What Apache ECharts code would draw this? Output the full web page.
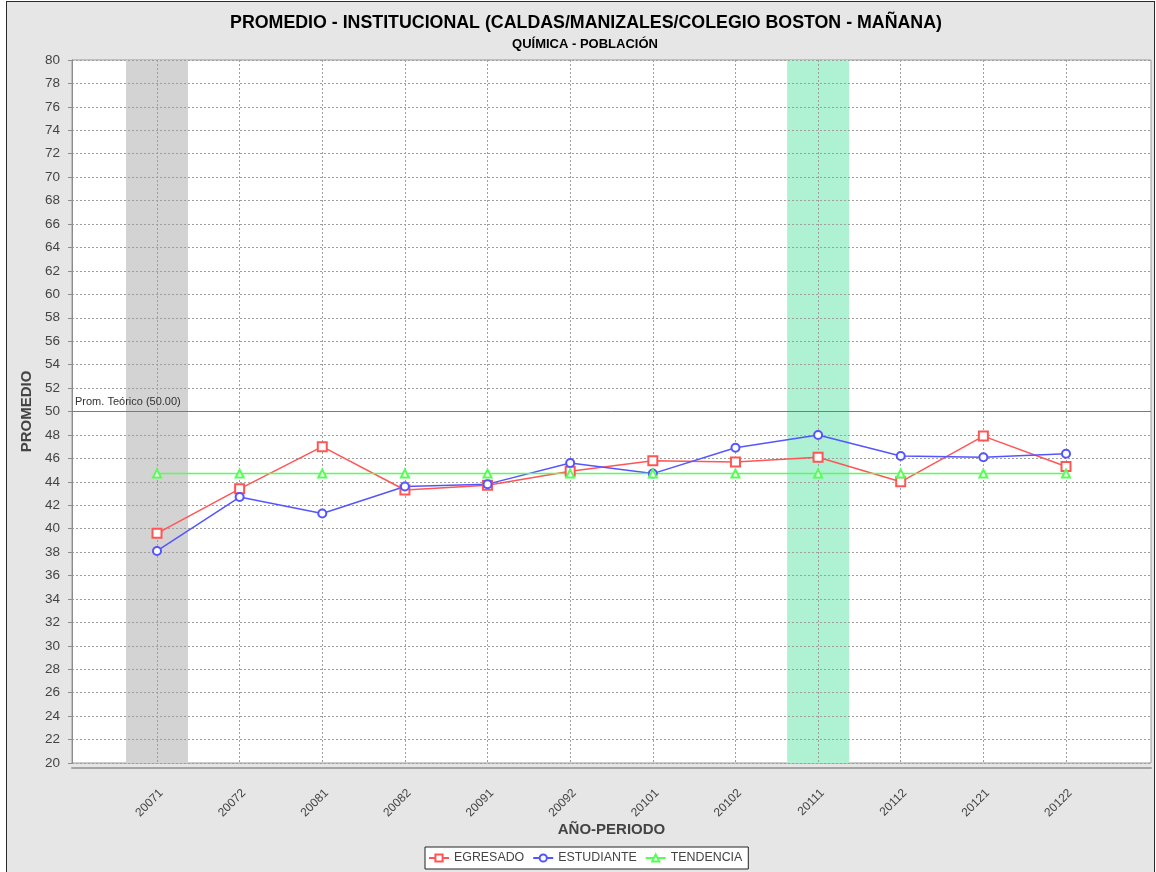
<!DOCTYPE html>
<html>
<head>
<meta charset="utf-8">
<title>Promedio institucional - Química</title>
<script src="https://cdn.jsdelivr.net/npm/echarts@6/dist/echarts.min.js"></script>
<style>
  html, body { margin: 0; padding: 0; background: #ffffff; }
  #frame {
    position: absolute; left: 6px; top: 1px; width: 1147px; height: 900px;
    border: 1px solid #2a2a2a; background: #e6e6e6;
  }
  #chart { position: absolute; left: 0; top: 0; width: 1156px; height: 872px; }
</style>
</head>
<body>
<div id="frame"></div>
<div id="chart"></div>
<script>
// Periods (year + semester)
const categories = ['20071', '20072', '20081', '20082', '20091', '20092',
                    '20101', '20102', '20111', '20112', '20121', '20122'];

// Average scores per period
const egresado   = [39.6, 43.4, 47.0, 43.3, 43.7, 44.9, 45.8, 45.7, 46.1, 44.0, 47.9, 45.3];
const estudiante = [38.1, 42.7, 41.3, 43.6, 43.8, 45.6, 44.7, 46.9, 48.0, 46.2, 46.1, 46.4];
const tendencia  = [44.7, 44.7, 44.7, 44.7, 44.7, 44.7, 44.7, 44.7, 44.7, 44.7, 44.7, 44.7];

// Theoretical average reference line
const promTeorico = 50;

// Highlighted periods (shaded columns)
const bandPeriods = ['20071', '20111'];
const bandColors  = ['#d3d3d3', '#aff2d3'];

// Value axis range
const yMin = 20, yMax = 80, yStep = 2;

const FONT = "'Liberation Sans', Arial, sans-serif";
const TITLE = 'PROMEDIO - INSTITUCIONAL (CALDAS/MANIZALES/COLEGIO BOSTON - MAÑANA)';
const SUBTITLE = 'QUÍMICA - POBLACIÓN';

const chart = echarts.init(document.getElementById('chart'), null, { renderer: 'canvas' });

const gridLine = { color: '#9e9e9e', type: [2, 2], width: 1 };

const option = {
  backgroundColor: 'transparent',
  animation: false,
  textStyle: { fontFamily: FONT },
  title: [
    {
      text: TITLE, left: 581, top: 9, textAlign: 'center',
      textStyle: { fontFamily: FONT, fontSize: 17.8, fontWeight: 'bold', color: '#000' }
    },
    {
      text: SUBTITLE, left: 580, top: 33, textAlign: 'center',
      textStyle: { fontFamily: FONT, fontSize: 13, fontWeight: 'bold', color: '#000' }
    }
  ],
  legend: {
    data: ['EGRESADO', 'ESTUDIANTE', 'TENDENCIA'],
    left: 425, top: 847,
    backgroundColor: '#ffffff',
    borderColor: '#222', borderWidth: 1,
    padding: [5, 6, 5, 3],
    itemGap: 8, itemWidth: 20, itemHeight: 9,
    textStyle: { fontFamily: FONT, fontSize: 12.4, color: '#444' }
  },
  grid: [
    { left: 72, top: 60, width: 1079, height: 703, show: true,
      backgroundColor: '#ffffff', borderColor: '#9a9a9a', borderWidth: 1 },
    { left: 157, top: 60, width: 909, height: 703 }
  ],
  xAxis: [
    {
      gridIndex: 0, type: 'value', min: 0, max: 1, offset: 5, z: 2,
      axisLine: { show: true, lineStyle: { color: '#a5a5a5', width: 2 } },
      axisTick: { show: false }, axisLabel: { show: false }, splitLine: { show: false },
      name: 'AÑO-PERIODO', nameLocation: 'middle', nameGap: 54,
      nameTextStyle: { fontFamily: FONT, fontSize: 15, fontWeight: 'bold', color: '#444' }
    },
    {
      gridIndex: 1, type: 'category', data: categories, boundaryGap: false, z: 2,
      axisLine: { show: false }, axisTick: { show: false },
      axisLabel: { interval: 0, rotate: 45, margin: 24, verticalAlign: 'top', align: 'right',
                   fontSize: 12, color: '#444', fontFamily: FONT },
      splitLine: { show: true, interval: 0, lineStyle: gridLine }
    }
  ],
  yAxis: [
    {
      gridIndex: 0, type: 'value', min: yMin, max: yMax, interval: yStep, offset: 3, z: 2,
      axisLine: { show: true, lineStyle: { color: '#8c8c8c', width: 1 } },
      axisTick: { show: true, length: 4, lineStyle: { color: '#8c8c8c' } },
      axisLabel: { margin: 9, fontSize: 13.5, color: '#444', fontFamily: FONT },
      splitLine: { show: true, lineStyle: gridLine },
      name: 'PROMEDIO', nameLocation: 'middle', nameGap: 30,
      nameTextStyle: { fontFamily: FONT, fontSize: 15, fontWeight: 'bold', color: '#444' }
    },
    { gridIndex: 1, type: 'value', min: yMin, max: yMax, show: false }
  ],
  series: [
    {
      // shaded period columns
      type: 'custom', name: 'bandas', xAxisIndex: 1, yAxisIndex: 1, z: 1, silent: true,
      data: bandPeriods.map(p => [p]),
      encode: { x: 0 },
      renderItem: function (params, api) {
        const idx = api.value(0);
        const top = api.coord([idx, yMax]);
        const bottom = api.coord([idx, yMin]);
        const w = api.size([1, 0])[0] * 0.75;
        return {
          type: 'rect',
          shape: { x: top[0] - w / 2, y: top[1], width: w, height: bottom[1] - top[1] },
          style: { fill: bandColors[params.dataIndex] }
        };
      }
    },
    {
      // theoretical average line across the full plot
      type: 'line', name: 'teorico', xAxisIndex: 0, yAxisIndex: 0, data: [], z: 3,
      markLine: {
        silent: true, symbol: 'none', animation: false,
        lineStyle: { color: '#7a7a7a', type: 'solid', width: 1 },
        label: {
          position: 'insideStartTop', distance: [3, 4],
          formatter: 'Prom. Teórico (' + promTeorico.toFixed(2) + ')',
          color: '#333', fontSize: 11, fontFamily: FONT
        },
        data: [{ yAxis: promTeorico }]
      }
    },
    {
      name: 'EGRESADO', type: 'line', xAxisIndex: 1, yAxisIndex: 1, z: 4,
      data: egresado, symbol: 'emptyRect', symbolSize: 9,
      lineStyle: { color: '#ff5555', width: 1.5 },
      itemStyle: { color: '#ff5555', borderWidth: 1.3 }
    },
    {
      name: 'ESTUDIANTE', type: 'line', xAxisIndex: 1, yAxisIndex: 1, z: 4,
      data: estudiante, symbol: 'emptyCircle', symbolSize: 8,
      lineStyle: { color: '#5555ff', width: 1.5 },
      itemStyle: { color: '#5555ff', borderWidth: 1.3 }
    },
    {
      name: 'TENDENCIA', type: 'line', xAxisIndex: 1, yAxisIndex: 1, z: 4,
      data: tendencia, symbol: 'emptyTriangle', symbolSize: 8,
      lineStyle: { color: '#55ff55', width: 1.5 },
      itemStyle: { color: '#55ff55', borderWidth: 1.3 }
    }
  ]
};

chart.setOption(option);
</script>
</body>
</html>
